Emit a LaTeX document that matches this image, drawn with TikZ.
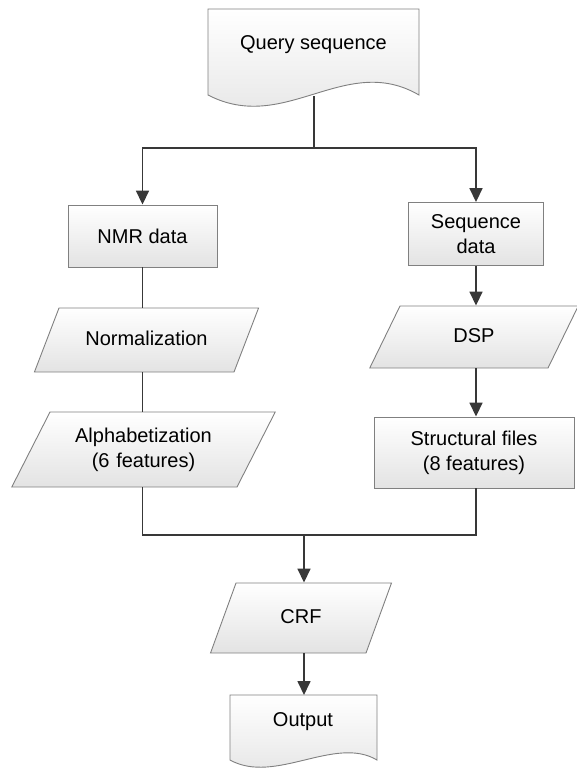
\documentclass[tikz,border=0pt]{standalone}
\usepackage{fontspec}
\setmainfont{Liberation Sans}
\usetikzlibrary{shapes.geometric,arrows.meta}

\begin{document}
\begin{tikzpicture}[x=1pt,y=-1pt,
	box/.style={draw=black!50, line width=0.9pt, top color=white, bottom color=black!11,
		font=\fontsize{20}{25}\selectfont, align=center, inner sep=0pt},
	io/.style n args={2}{box, trapezium, trapezium left angle=#1,
		trapezium right angle=#2, text height=15pt, text depth=5pt},
	txt/.style={font=\fontsize{20}{25}\selectfont, align=center, inner sep=0pt},
	wire/.style={draw=black!78, line width=1.7pt},
	arr/.style={wire, -{Triangle[length=14pt,width=13pt]}}]
\useasboundingbox (0,0) rectangle (577,768);

% documents (wavy bottom)
\path [box] (208,9) -- (419,9) -- (419,95)
	.. controls (345,52) and (285,135) .. (208,95) -- cycle;
\node [txt] (query) at (313.5,45) {Query sequence};
\coordinate (qtail) at (314,96);

\path [box] (230,695) -- (377,695) -- (377,760)
	.. controls (335,735) and (275,785) .. (230,760) -- cycle;
\node [txt] (output) at (303,722) {Output};
\coordinate (otop) at (304,695);

% left branch
\node [box, minimum width=149pt, minimum height=62pt] (nmr) at (142.5,236) {NMR data};
\node [io={69}{111}, text width=175pt, inner ysep=22pt] (norm) at (146.5,340) {Normalization};
\node [io={63}{117}, text width=187pt, text depth=30pt, inner ysep=15pt] (alpha) at (143.5,449.5) {Alphabetization\\(6 features)};

% right branch
\node [box, minimum width=135pt, minimum height=63pt] (seq) at (476,234) {Sequence\\data};
\node [io={64}{116}, text width=148pt, inner ysep=21pt] (dsp) at (474,337) {DSP};
\node [box, minimum width=200pt, minimum height=71pt] (struct) at (474,452.5) {Structural files\\(8 features)};

\node [io={70}{110}, text width=130pt, inner ysep=25pt] (crf) at (301,618) {CRF};

\coordinate (fork) at (314,148);
\coordinate (join) at (304,535);

\draw [wire] (qtail) -- (fork);
\draw [arr] (fork) -| (nmr.north);
\draw [arr] (fork) -| (seq.north);
\draw [wire] (nmr.south) -- (nmr.south |- norm.north);
\draw [wire] (nmr.south |- norm.south) -- (nmr.south |- alpha.north);
\draw [arr] (seq.south) -- (seq.south |- dsp.north);
\draw [arr] (seq.south |- dsp.south) -- (seq.south |- struct.north);
\draw [wire] (nmr.south |- alpha.south) |- (join);
\draw [wire] (seq.south |- struct.south) |- (join);
\draw [arr] (join) -- (join |- crf.north);
\draw [arr] (join |- crf.south) -- (otop);
\end{tikzpicture}
\end{document}
